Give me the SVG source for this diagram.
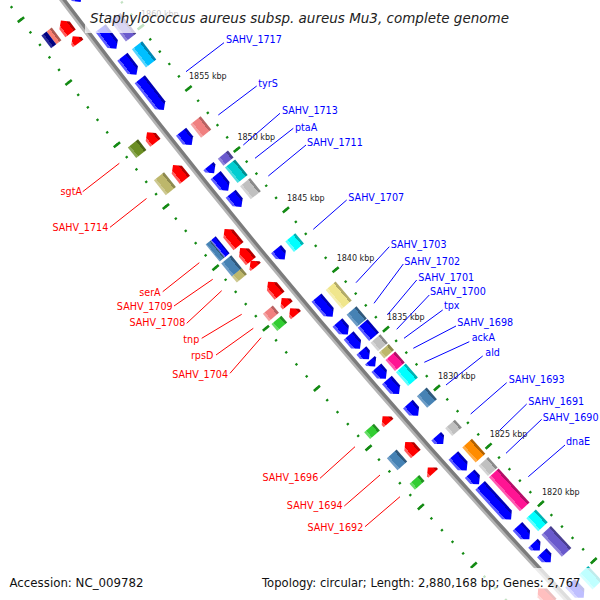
<svg xmlns="http://www.w3.org/2000/svg" width="600" height="600" viewBox="0 0 600 600">
<defs>
<linearGradient id="gBlue" x1="0" y1="0" x2="0" y2="1"><stop offset="0" stop-color="#0000b4"/><stop offset=".2" stop-color="#0000b4"/><stop offset=".2" stop-color="#0000ff"/><stop offset=".8" stop-color="#0000ff"/><stop offset=".8" stop-color="#5c5cff"/><stop offset="1" stop-color="#5c5cff"/></linearGradient>
<linearGradient id="gRed" x1="0" y1="0" x2="0" y2="1"><stop offset="0" stop-color="#b40000"/><stop offset=".2" stop-color="#b40000"/><stop offset=".2" stop-color="#ff0000"/><stop offset=".8" stop-color="#ff0000"/><stop offset=".8" stop-color="#ff5c5c"/><stop offset="1" stop-color="#ff5c5c"/></linearGradient>
<linearGradient id="gCoral" x1="0" y1="0" x2="0" y2="1"><stop offset="0" stop-color="#b86262"/><stop offset=".2" stop-color="#b86262"/><stop offset=".2" stop-color="#f08080"/><stop offset=".8" stop-color="#f08080"/><stop offset=".8" stop-color="#f4a2a2"/><stop offset="1" stop-color="#f4a2a2"/></linearGradient>
<linearGradient id="gSteel" x1="0" y1="0" x2="0" y2="1"><stop offset="0" stop-color="#30597c"/><stop offset=".2" stop-color="#30597c"/><stop offset=".2" stop-color="#4682b4"/><stop offset=".8" stop-color="#4682b4"/><stop offset=".8" stop-color="#6c9cc6"/><stop offset="1" stop-color="#6c9cc6"/></linearGradient>
<linearGradient id="gKhaki" x1="0" y1="0" x2="0" y2="1"><stop offset="0" stop-color="#b3ab68"/><stop offset=".2" stop-color="#b3ab68"/><stop offset=".2" stop-color="#f0e68c"/><stop offset=".8" stop-color="#f0e68c"/><stop offset=".8" stop-color="#f5eeb0"/><stop offset="1" stop-color="#f5eeb0"/></linearGradient>
<linearGradient id="gDKhaki" x1="0" y1="0" x2="0" y2="1"><stop offset="0" stop-color="#8d894f"/><stop offset=".2" stop-color="#8d894f"/><stop offset=".2" stop-color="#bdb76b"/><stop offset=".8" stop-color="#bdb76b"/><stop offset=".8" stop-color="#cdc890"/><stop offset="1" stop-color="#cdc890"/></linearGradient>
<linearGradient id="gOlive" x1="0" y1="0" x2="0" y2="1"><stop offset="0" stop-color="#4b6418"/><stop offset=".2" stop-color="#4b6418"/><stop offset=".2" stop-color="#6b8e23"/><stop offset=".8" stop-color="#6b8e23"/><stop offset=".8" stop-color="#8aa653"/><stop offset="1" stop-color="#8aa653"/></linearGradient>
<linearGradient id="gCyan" x1="0" y1="0" x2="0" y2="1"><stop offset="0" stop-color="#00b3b3"/><stop offset=".2" stop-color="#00b3b3"/><stop offset=".2" stop-color="#00ffff"/><stop offset=".8" stop-color="#00ffff"/><stop offset=".8" stop-color="#5affff"/><stop offset="1" stop-color="#5affff"/></linearGradient>
<linearGradient id="gSky" x1="0" y1="0" x2="0" y2="1"><stop offset="0" stop-color="#0086b3"/><stop offset=".2" stop-color="#0086b3"/><stop offset=".2" stop-color="#00bfff"/><stop offset=".8" stop-color="#00bfff"/><stop offset=".8" stop-color="#55d4ff"/><stop offset="1" stop-color="#55d4ff"/></linearGradient>
<linearGradient id="gTurq" x1="0" y1="0" x2="0" y2="1"><stop offset="0" stop-color="#009092"/><stop offset=".2" stop-color="#009092"/><stop offset=".2" stop-color="#00ced1"/><stop offset=".8" stop-color="#00ced1"/><stop offset=".8" stop-color="#4adcde"/><stop offset="1" stop-color="#4adcde"/></linearGradient>
<linearGradient id="gSilver" x1="0" y1="0" x2="0" y2="1"><stop offset="0" stop-color="#8a8a8a"/><stop offset=".2" stop-color="#8a8a8a"/><stop offset=".2" stop-color="#c0c0c0"/><stop offset=".8" stop-color="#c0c0c0"/><stop offset=".8" stop-color="#d4d4d4"/><stop offset="1" stop-color="#d4d4d4"/></linearGradient>
<linearGradient id="gPink" x1="0" y1="0" x2="0" y2="1"><stop offset="0" stop-color="#b30e67"/><stop offset=".2" stop-color="#b30e67"/><stop offset=".2" stop-color="#ff1493"/><stop offset=".8" stop-color="#ff1493"/><stop offset=".8" stop-color="#ff5ab0"/><stop offset="1" stop-color="#ff5ab0"/></linearGradient>
<linearGradient id="gOrange" x1="0" y1="0" x2="0" y2="1"><stop offset="0" stop-color="#b36200"/><stop offset=".2" stop-color="#b36200"/><stop offset=".2" stop-color="#ff8c00"/><stop offset=".8" stop-color="#ff8c00"/><stop offset=".8" stop-color="#ffaa44"/><stop offset="1" stop-color="#ffaa44"/></linearGradient>
<linearGradient id="gSlate" x1="0" y1="0" x2="0" y2="1"><stop offset="0" stop-color="#4a3f90"/><stop offset=".2" stop-color="#4a3f90"/><stop offset=".2" stop-color="#6a5acd"/><stop offset=".8" stop-color="#6a5acd"/><stop offset=".8" stop-color="#8f82da"/><stop offset="1" stop-color="#8f82da"/></linearGradient>
<linearGradient id="gLime" x1="0" y1="0" x2="0" y2="1"><stop offset="0" stop-color="#238f23"/><stop offset=".2" stop-color="#238f23"/><stop offset=".2" stop-color="#32cd32"/><stop offset=".8" stop-color="#32cd32"/><stop offset=".8" stop-color="#66dc66"/><stop offset="1" stop-color="#66dc66"/></linearGradient>
<linearGradient id="gNavy" x1="0" y1="0" x2="0" y2="1"><stop offset="0" stop-color="#000080"/><stop offset=".6" stop-color="#000080"/><stop offset=".6" stop-color="#2a2a99"/><stop offset="1" stop-color="#2a2a99"/></linearGradient>
<linearGradient id="gSalmon" x1="0" y1="0" x2="0" y2="1"><stop offset="0" stop-color="#af5a50"/><stop offset=".4" stop-color="#af5a50"/><stop offset=".4" stop-color="#fa8072"/><stop offset="1" stop-color="#fa8072"/></linearGradient>
</defs>
<style>
.bl{fill:url(#gBlue)} .rd{fill:url(#gRed)} .co{fill:url(#gCoral)} .st{fill:url(#gSteel)}
.kh{fill:url(#gKhaki)} .dk{fill:url(#gDKhaki)} .ol{fill:url(#gOlive)} .cy{fill:url(#gCyan)}
.sk{fill:url(#gSky)} .tq{fill:url(#gTurq)} .sv{fill:url(#gSilver)} .pk{fill:url(#gPink)}
.or{fill:url(#gOrange)} .sl{fill:url(#gSlate)} .li{fill:url(#gLime)} .nv{fill:url(#gNavy)} .sa{fill:url(#gSalmon)}
.ring{fill:none;stroke:#138a13}
.lb{font-family:"DejaVu Sans",Verdana,sans-serif;font-size:9.6px;fill:#0000ff}
.lr{font-family:"DejaVu Sans",Verdana,sans-serif;font-size:9.6px;fill:#ff0000;text-anchor:end}
.tk{font-family:"DejaVu Sans",Verdana,sans-serif;font-size:8px;fill:#222}
.cb{stroke:#0000ff;stroke-width:1}
.cr{stroke:#ff0000;stroke-width:1}
.wash{fill:#ffffff;fill-opacity:0.75}
</style>
<rect width="600" height="600" fill="#ffffff"/>
<g id="map" transform="translate(5798.8 -4316.5)">
<g id="backbone">
<path d="M-5788.6,4246.4 A7179.2 7179.2 0 0 0 -5130.4,5022.0" fill="none" stroke="#b4b4b4" stroke-width="5.2"/>
<path d="M-5787.3,4245.4 A7177.6 7177.6 0 0 0 -5129.2,5020.8" fill="none" stroke="#7c7c7c" stroke-width="3.4"/>
</g>
<g id="rings">
<path class="ring" d="M-5751.42,4219.11 A7133 7133 0 0 0 -5097.38,4989.63" stroke-width="2.4" stroke-dasharray="2.2 13.361" stroke-dashoffset="1.1"/>
<path class="ring" d="M-5751.42,4219.11 A7133 7133 0 0 0 -5097.38,4989.63" stroke-width="8" stroke-dasharray="2.6 75.205" stroke-dashoffset="1.3"/>
<path class="ring" d="M-5824.79,4272.93 A7224 7224 0 0 0 -5162.41,5053.29" stroke-width="2.4" stroke-dasharray="2.2 13.559" stroke-dashoffset="1.1"/>
<path class="ring" d="M-5824.79,4272.93 A7224 7224 0 0 0 -5162.41,5053.29" stroke-width="8" stroke-dasharray="2.6 76.197" stroke-dashoffset="1.3"/>
</g>
<g id="P0" transform="rotate(53.0193) translate(0 7178.6)"><polygon class="bl" points="-10,-19.5 4,-19.5 10,-13 4,-6.5 -10,-6.5"/></g>
<g id="P1" transform="rotate(52.5723) translate(0 7178.6)"><polygon class="bl" points="-13,-19.5 7,-19.5 13,-13 7,-6.5 -13,-6.5"/><rect class="sl" x="-13" y="-38" width="26" height="13"/></g>
<g id="P2" transform="rotate(52.2970) translate(0 7178.6)"><polygon class="bl" points="-11.5,-19.5 5.5,-19.5 11.5,-13 5.5,-6.5 -11.5,-6.5"/><rect class="sk" x="-11.5" y="-38" width="23" height="13"/></g>
<g id="P3" transform="rotate(52.0056) translate(0 7178.6)"><polygon class="bl" points="-19.5,-19.5 13.5,-19.5 19.5,-13 13.5,-6.5 -19.5,-6.5"/></g>
<g id="P4" transform="rotate(51.5587) translate(0 7178.6)"><polygon class="bl" points="-8.5,-19.5 2.5,-19.5 8.5,-13 2.5,-6.5 -8.5,-6.5"/><rect class="co" x="-8.5" y="-38" width="17" height="13"/></g>
<g id="P5" transform="rotate(51.2394) translate(0 7178.6)"><polygon class="bl" points="-4.5,-19.5 -1.5,-19.5 4.5,-13 -1.5,-6.5 -4.5,-6.5"/><rect class="sl" x="-4.5" y="-38" width="9" height="13"/></g>
<g id="P6" transform="rotate(51.1037) translate(0 7178.6)"><polygon class="bl" points="-10,-19.5 4,-19.5 10,-13 4,-6.5 -10,-6.5"/><rect class="tq" x="-10" y="-38" width="20" height="13"/></g>
<g id="P7" transform="rotate(50.9241) translate(0 7178.6)"><polygon class="bl" points="-8.5,-19.5 2.5,-19.5 8.5,-13 2.5,-6.5 -8.5,-6.5"/><rect class="sv" x="-8.5" y="-38" width="17" height="13"/></g>
<g id="P8" transform="rotate(50.3654) translate(0 7178.6)"><polygon class="bl" points="-6.75,-19.5 0.75,-19.5 6.75,-13 0.75,-6.5 -6.75,-6.5"/><rect class="cy" x="-6.75" y="-38" width="13.5" height="13"/></g>
<g id="P9" transform="rotate(49.8147) translate(0 7178.6)"><polygon class="bl" points="-12.5,-19.5 6.5,-19.5 12.5,-13 6.5,-6.5 -12.5,-6.5"/><rect class="kh" x="-12.5" y="-38" width="25" height="13"/></g>
<g id="P10" transform="rotate(49.5912) translate(0 7178.6)"><polygon class="bl" points="-8,-19.5 2,-19.5 8,-13 2,-6.5 -8,-6.5"/><rect class="st" x="-8" y="-38" width="16" height="13"/></g>
<g id="P11" transform="rotate(49.4475) translate(0 7178.6)"><polygon class="bl" points="-8.75,-19.5 2.75,-19.5 8.75,-13 2.75,-6.5 -8.75,-6.5"/><rect class="bl" x="-8.75" y="-38" width="17.5" height="13"/></g>
<g id="P12" transform="rotate(49.3142) translate(0 7178.6)"><polygon class="bl" points="-5.75,-19.5 -0.25,-19.5 5.75,-13 -0.25,-6.5 -5.75,-6.5"/><rect class="sv" x="-5.75" y="-38" width="11.5" height="13"/></g>
<g id="P13" transform="rotate(49.2240) translate(0 7178.6)"><polygon class="bl" points="-4,-19.5 -2,-19.5 4,-13 -2,-6.5 -4,-6.5"/><rect class="dk" x="-4" y="-38" width="8" height="13"/></g>
<g id="P14" transform="rotate(49.1187) translate(0 7178.6)"><polygon class="bl" points="-7.25,-19.5 1.25,-19.5 7.25,-13 1.25,-6.5 -7.25,-6.5"/><rect class="pk" x="-7.25" y="-38" width="14.5" height="13"/></g>
<g id="P15" transform="rotate(48.9742) translate(0 7178.6)"><polygon class="bl" points="-9.25,-19.5 3.25,-19.5 9.25,-13 3.25,-6.5 -9.25,-6.5"/><rect class="cy" x="-9.25" y="-38" width="18.5" height="13"/></g>
<g id="P16" transform="rotate(48.7307) translate(0 7178.6)"><polygon class="bl" points="-7.75,-19.5 1.75,-19.5 7.75,-13 1.75,-6.5 -7.75,-6.5"/><rect class="st" x="-7.75" y="-38" width="15.5" height="13"/></g>
<g id="P17" transform="rotate(48.4083) translate(0 7178.6)"><polygon class="bl" points="-5.25,-19.5 -0.75,-19.5 5.25,-13 -0.75,-6.5 -5.25,-6.5"/><rect class="sv" x="-5.25" y="-38" width="10.5" height="13"/></g>
<g id="P18" transform="rotate(48.1641) translate(0 7178.6)"><polygon class="bl" points="-10,-19.5 4,-19.5 10,-13 4,-6.5 -10,-6.5"/><rect class="or" x="-10" y="-38" width="20" height="13"/></g>
<g id="P19" transform="rotate(47.9924) translate(0 7178.6)"><polygon class="bl" points="-7,-19.5 1,-19.5 7,-13 1,-6.5 -7,-6.5"/><rect class="sv" x="-7" y="-38" width="14" height="13"/></g>
<g id="P20" transform="rotate(47.7394) translate(0 7178.6)"><polygon class="bl" points="-23,-19.5 17,-19.5 23,-13 17,-6.5 -23,-6.5"/><rect class="pk" x="-23" y="-38" width="46" height="13"/></g>
<g id="P21" transform="rotate(47.4098) translate(0 7178.6)"><polygon class="bl" points="-8.75,-19.5 2.75,-19.5 8.75,-13 2.75,-6.5 -8.75,-6.5"/><rect class="cy" x="-8.75" y="-38" width="17.5" height="13"/></g>
<g id="P22a" transform="rotate(47.2565) translate(0 7178.6)"><polygon class="bl" points="-5,-19.5 -1,-19.5 5,-13 -1,-6.5 -5,-6.5"/></g>
<g id="P22b" transform="rotate(47.1408) translate(0 7178.6)"><polygon class="bl" points="-6.5,-19.5 0.5,-19.5 6.5,-13 0.5,-6.5 -6.5,-6.5"/></g>
<g id="P22c" transform="rotate(47.1807) translate(0 7178.6)"><rect class="sl" x="-15" y="-38" width="30" height="13"/></g>
<g id="P23" transform="rotate(46.7816) translate(0 7178.6)"><polygon class="bl" points="-10,-19.5 4,-19.5 10,-13 4,-6.5 -10,-6.5"/><rect class="cy" x="-10" y="-38" width="20" height="13"/></g>
<g id="Q1" transform="rotate(52.8517) translate(0 7178.6)"><polygon class="rd" points="8,7.5 -2,7.5 -8,14 -2,20.5 8,20.5"/><rect class="sa" x="-8" y="25.5" width="16" height="6.5"/><rect class="nv" x="-8" y="32" width="16" height="6.5"/></g>
<g id="Q2" transform="rotate(52.7240) translate(0 7178.6)"><polygon class="rd" points="4.5,7.5 1.5,7.5 -4.5,14 1.5,20.5 4.5,20.5"/></g>
<g id="Q3" transform="rotate(51.7383) translate(0 7178.6)"><polygon class="rd" points="6.75,7.5 -0.75,7.5 -6.75,14 -0.75,20.5 6.75,20.5"/><rect class="ol" x="-6.75" y="25.5" width="13.5" height="13"/></g>
<g id="Q4" transform="rotate(51.3831) translate(0 7178.6)"><polygon class="rd" points="9.5,7.5 -3.5,7.5 -9.5,14 -3.5,20.5 9.5,20.5"/><rect class="dk" x="-9.5" y="25.5" width="19" height="13"/></g>
<g id="Q5" transform="rotate(50.7166) translate(0 7178.6)"><polygon class="rd" points="11,7.5 -5,7.5 -11,14 -5,20.5 11,20.5"/><rect class="bl" x="-11" y="25.5" width="22" height="6.5"/><rect class="st" x="-11" y="32" width="22" height="6.5"/></g>
<g id="Q6" transform="rotate(50.5410) translate(0 7178.6)"><polygon class="rd" points="8.5,7.5 -2.5,7.5 -8.5,14 -2.5,20.5 8.5,20.5"/><rect class="st" x="-8.5" y="25.5" width="17" height="13"/></g>
<g id="Q7" transform="rotate(50.4452) translate(0 7178.6)"><polygon class="rd" points="4,7.5 2,7.5 -4,14 2,20.5 4,20.5"/><rect class="dk" x="-4" y="25.5" width="8" height="13"/></g>
<g id="Q8" transform="rotate(50.1882) translate(0 7178.6)"><polygon class="rd" points="9,7.5 -3,7.5 -9,14 -3,20.5 9,20.5"/></g>
<g id="Q9" transform="rotate(50.0525) translate(0 7178.6)"><polygon class="rd" points="4.75,7.5 1.25,7.5 -4.75,14 1.25,20.5 4.75,20.5"/><rect class="co" x="-4.75" y="25.5" width="9.5" height="13"/></g>
<g id="Q10" transform="rotate(49.9488) translate(0 7178.6)"><polygon class="rd" points="4.5,7.5 1.5,7.5 -4.5,14 1.5,20.5 4.5,20.5"/><rect class="li" x="-4.5" y="25.5" width="9" height="13"/></g>
<g id="Q11" transform="rotate(48.8170) translate(0 7178.6)"><polygon class="rd" points="4.5,7.5 1.5,7.5 -4.5,14 1.5,20.5 4.5,20.5"/><rect class="li" x="-4.5" y="25.5" width="9" height="13"/></g>
<g id="Q12" transform="rotate(48.5160) translate(0 7178.6)"><polygon class="rd" points="8,7.5 -2,7.5 -8,14 -2,20.5 8,20.5"/><rect class="st" x="-8" y="25.5" width="16" height="13"/></g>
<g id="Q13" transform="rotate(48.2766) translate(0 7178.6)"><polygon class="rd" points="4,7.5 2,7.5 -4,14 2,20.5 4,20.5"/><rect class="li" x="-4" y="25.5" width="8" height="13"/></g>
<g id="Q14" transform="rotate(46.9237) translate(0 7178.6)"><polygon class="rd" points="10,7.5 -4,7.5 -10,14 -4,20.5 10,20.5"/></g>
</g>
<g id="ticklabels" class="tk">
<text x="141" y="17">1860 kbp</text>
<text x="189" y="79">1855 kbp</text>
<text x="237.4" y="140">1850 kbp</text>
<text x="287" y="201">1845 kbp</text>
<text x="336.7" y="261">1840 kbp</text>
<text x="387" y="320">1835 kbp</text>
<text x="438" y="379">1830 kbp</text>
<text x="489.7" y="437">1825 kbp</text>
<text x="542" y="494.7">1820 kbp</text>
</g>
<g id="connectors">
<line class="cb" x1="224" y1="42.7" x2="186" y2="71.7"/>
<line class="cb" x1="256.7" y1="86" x2="218.3" y2="115"/>
<line class="cb" x1="280" y1="113.3" x2="243.3" y2="145"/>
<line class="cb" x1="293.3" y1="128.3" x2="255" y2="158.3"/>
<line class="cb" x1="306" y1="145" x2="268.3" y2="176"/>
<line class="cb" x1="346.7" y1="200" x2="313.3" y2="229.3"/>
<line class="cb" x1="389.3" y1="246.7" x2="356" y2="282.7"/>
<line class="cb" x1="403.3" y1="264" x2="374" y2="303.3"/>
<line class="cb" x1="416.7" y1="280" x2="387.3" y2="315"/>
<line class="cb" x1="429.3" y1="295" x2="396.7" y2="329.3"/>
<line class="cb" x1="442.7" y1="310" x2="404" y2="338.3"/>
<line class="cb" x1="456" y1="326" x2="413.3" y2="348.3"/>
<line class="cb" x1="469.3" y1="341.7" x2="424.3" y2="362.3"/>
<line class="cb" x1="482.7" y1="356" x2="446" y2="385"/>
<line class="cb" x1="506.7" y1="382.7" x2="470.7" y2="414"/>
<line class="cb" x1="526.7" y1="404" x2="499.3" y2="430.7"/>
<line class="cb" x1="541.7" y1="419.3" x2="506" y2="453.3"/>
<line class="cb" x1="565" y1="445" x2="528.3" y2="476.7"/>
<line class="cr" x1="82.7" y1="191.7" x2="119.3" y2="163.3"/>
<line class="cr" x1="110" y1="227.3" x2="146.5" y2="198.5"/>
<line class="cr" x1="162.7" y1="291.7" x2="199.3" y2="262.7"/>
<line class="cr" x1="174" y1="306" x2="212.7" y2="279.3"/>
<line class="cr" x1="186.7" y1="323.3" x2="221.7" y2="290.7"/>
<line class="cr" x1="201.7" y1="338.3" x2="241.7" y2="314.3"/>
<line class="cr" x1="216" y1="355" x2="253.3" y2="328.3"/>
<line class="cr" x1="230" y1="373.3" x2="261" y2="337.7"/>
<line class="cr" x1="320" y1="478.3" x2="355" y2="446.7"/>
<line class="cr" x1="344.3" y1="506" x2="380" y2="475"/>
<line class="cr" x1="365" y1="526.7" x2="400" y2="496.7"/>
</g>
<g id="labels">
<text class="lb" x="226" y="43">SAHV_1717</text>
<text class="lb" x="258.3" y="86.7">tyrS</text>
<text class="lb" x="282" y="114">SAHV_1713</text>
<text class="lb" x="295" y="130.7">ptaA</text>
<text class="lb" x="307" y="145.7">SAHV_1711</text>
<text class="lb" x="348.3" y="200.5">SAHV_1707</text>
<text class="lb" x="390.7" y="247.7">SAHV_1703</text>
<text class="lb" x="404.3" y="264.7">SAHV_1702</text>
<text class="lb" x="418.3" y="280.7">SAHV_1701</text>
<text class="lb" x="430" y="295">SAHV_1700</text>
<text class="lb" x="444" y="309">tpx</text>
<text class="lb" x="457.3" y="325.7">SAHV_1698</text>
<text class="lb" x="471.7" y="340.7">ackA</text>
<text class="lb" x="485.3" y="356">ald</text>
<text class="lb" x="508.7" y="383.3">SAHV_1693</text>
<text class="lb" x="528.3" y="405">SAHV_1691</text>
<text class="lb" x="542.7" y="420.7">SAHV_1690</text>
<text class="lb" x="566" y="445">dnaE</text>
<text class="lr" x="82" y="195">sgtA</text>
<text class="lr" x="108.3" y="230.7">SAHV_1714</text>
<text class="lr" x="160.7" y="296">serA</text>
<text class="lr" x="172.7" y="310">SAHV_1709</text>
<text class="lr" x="185.3" y="326">SAHV_1708</text>
<text class="lr" x="199.3" y="342.7">tnp</text>
<text class="lr" x="213.3" y="359.3">rpsD</text>
<text class="lr" x="228" y="377.7">SAHV_1704</text>
<text class="lr" x="318.3" y="481">SAHV_1696</text>
<text class="lr" x="342.7" y="509">SAHV_1694</text>
<text class="lr" x="363.3" y="531">SAHV_1692</text>
</g>
<g id="title">
<rect class="wash" x="85" y="0" width="430" height="33"/>
<text x="90" y="22.5" font-family="'DejaVu Sans',Verdana,sans-serif" font-style="italic" font-size="13.5" fill="#222">Staphylococcus aureus subsp. aureus Mu3, complete genome</text>
</g>
<g id="legend">
<rect class="wash" x="4" y="568" width="145" height="32"/>
<rect class="wash" x="256" y="568" width="344" height="32"/>
<text x="9.5" y="586.5" font-family="'DejaVu Sans',Verdana,sans-serif" font-size="11.8" fill="#111">Accession: NC_009782</text>
<text x="262" y="586.5" font-family="'DejaVu Sans',Verdana,sans-serif" font-size="11.6" fill="#111">Topology: circular; Length: 2,880,168 bp; Genes: 2,767</text>
</g>
</svg>
